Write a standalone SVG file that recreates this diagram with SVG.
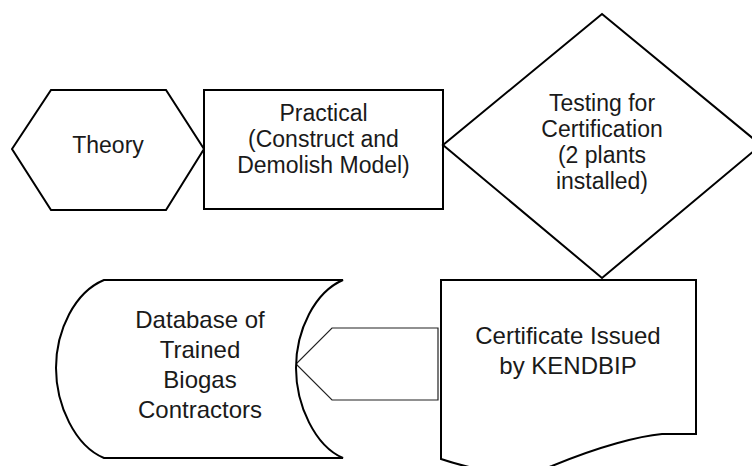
<svg xmlns="http://www.w3.org/2000/svg" width="752" height="466" viewBox="0 0 752 466">
<style>
.s{fill:#fff;stroke:#000;stroke-width:2;stroke-linejoin:miter}
.c{fill:#fff;stroke:#222;stroke-width:1.2}
text{font-family:"Liberation Sans",Arial,sans-serif;font-size:23px;fill:#1a1a1a;text-anchor:middle}
.b{font-size:24px}
</style>
<rect width="752" height="466" fill="#fff"/>
<g id="connectors">
<polygon class="c" points="438,328 332,328 296,364 332,400 438,400"/>
</g>
<g id="theory">
<polygon class="s" points="12,149 51,90 166,90 204,149 166,210 51,210"/>
<text x="108" y="153">Theory</text>
</g>
<g id="practical">
<rect class="s" x="204" y="90" width="239" height="119"/>
<text x="323.5" y="121">Practical</text>
<text x="323.5" y="147">(Construct and</text>
<text x="323.5" y="173">Demolish Model)</text>
</g>
<g id="testing">
<polygon class="s" points="602,14 761,145 602,278 443,145"/>
<text x="602" y="111">Testing for</text>
<text x="602" y="137">Certification</text>
<text x="602" y="163">(2 plants</text>
<text x="602" y="189">installed)</text>
</g>
<g id="certificate">
<path class="s" d="M441,280 L696,280 L696,434 L662,434 C640,436 600,446 552,466 C520,478 480,472 441,459 Z"/>
<text class="b" x="568" y="344">Certificate Issued</text>
<text class="b" x="568" y="374">by KENDBIP</text>
</g>
<g id="database">
<path class="s" d="M104,280 L343,280 C315,292 296,330 296,368 C296,405 315,446 343,458 L104,458 C75,446 56,405 56,368 C56,330 75,292 104,280 Z"/>
<text class="b" x="200" y="328">Database of</text>
<text class="b" x="200" y="358">Trained</text>
<text class="b" x="200" y="388">Biogas</text>
<text class="b" x="200" y="418">Contractors</text>
</g>
</svg>
